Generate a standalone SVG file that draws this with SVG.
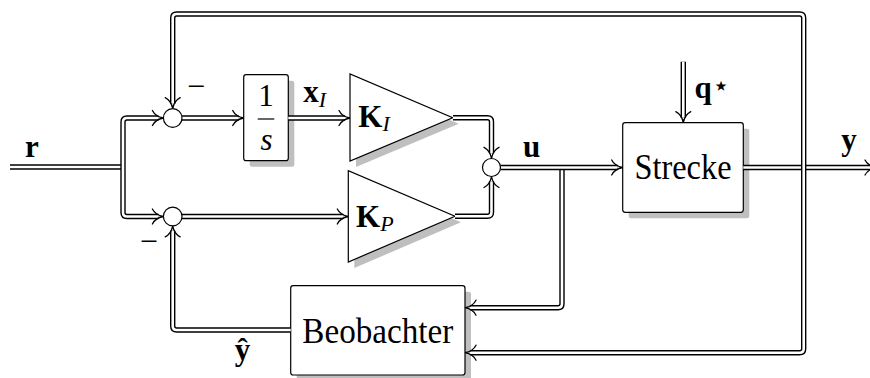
<svg xmlns="http://www.w3.org/2000/svg" width="870" height="378" viewBox="0 0 870 378">
<defs>
<style>
.bk{stroke:#000;stroke-width:5.4;fill:none;stroke-linejoin:round}
.wh{stroke:#fff;stroke-width:2.6;fill:none;stroke-linejoin:round}
.box{fill:#fff;stroke:#000;stroke-width:1.2}
.sh{fill:#bfbfbf;stroke:none}
.t{font-family:"Liberation Serif","Times New Roman",serif;fill:#000}
.bf{font-weight:bold;font-size:31px}
.it{font-style:italic;font-size:22px}
.big{font-size:35px}
</style>
<marker id="ah" markerUnits="userSpaceOnUse" viewBox="-10 -10 20 20" markerWidth="20" markerHeight="20" refX="0" refY="0" orient="auto-start-reverse" overflow="visible">
<path d="M -6,-7.5 Q -3,-1.5 5,0 Q -3,1.5 -6,7.5" fill="none" stroke="#000" stroke-width="1.3" stroke-linecap="round"/>
</marker>
</defs>
<rect width="870" height="378" fill="#fff"/>

<g id="integrator">
<rect class="sh" x="249.7" y="80.7" width="44.6" height="86" rx="2.5"/>
<rect class="box" x="243.7" y="74.7" width="44.6" height="86" rx="2.5"/>
<text class="t" x="266" y="106" font-size="31" text-anchor="middle">1</text>
<line x1="257.7" y1="119" x2="274.3" y2="119" stroke="#000" stroke-width="1.2"/>
<text class="t" x="266.5" y="150" font-size="31" font-style="italic" text-anchor="middle">s</text>
</g>
<g id="KI">
<polygon class="sh" points="356,80 356,167 458.7,123.7"/>
<polygon class="box" points="350,74 350,161 452.7,117.7"/>
<text class="t bf" x="358.3" y="127">K<tspan class="it" font-weight="normal" dy="4">I</tspan></text>
</g>
<g id="KP">
<polygon class="sh" points="354.3,176.7 354.3,268 461,222.3"/>
<polygon class="box" points="348.3,170.7 348.3,262 455,216.3"/>
<text class="t bf" x="356" y="227">K<tspan class="it" font-weight="normal" dy="4">P</tspan></text>
</g>
<g id="plant">
<rect class="sh" x="628.7" y="128.7" width="120.6" height="89.6" rx="2.5"/>
<rect class="box" x="622.7" y="122.7" width="120.6" height="89.6" rx="2.5"/>
<text class="t big" x="683" y="179" text-anchor="middle" textLength="97" lengthAdjust="spacingAndGlyphs">Strecke</text>
</g>
<g id="observer">
<rect class="sh" x="296.7" y="291.7" width="174.3" height="89.3" rx="2.5"/>
<rect class="box" x="290.7" y="285.7" width="174.3" height="89.3" rx="2.5"/>
<text class="t big" x="377.8" y="342.7" text-anchor="middle" textLength="151" lengthAdjust="spacingAndGlyphs">Beobachter</text>
</g>

<g id="connectors">
<path class="bk" d="M 10 167 H 123"/>
<path class="wh" d="M 10 167 H 123"/>
<path class="bk" d="M 158.4 118 H 127 Q 123 118 123 122 V 212.5 Q 123 216.5 127 216.5 H 158.4"/>
<path class="wh" d="M 158.4 118 H 127 Q 123 118 123 122 V 212.5 Q 123 216.5 127 216.5 H 158.4" marker-start="url(#ah)" marker-end="url(#ah)"/>
<path class="bk" d="M 182 118 H 238.7"/>
<path class="wh" d="M 182 118 H 238.7" marker-end="url(#ah)"/>
<path class="bk" d="M 288.3 118 H 345"/>
<path class="wh" d="M 288.3 118 H 345" marker-end="url(#ah)"/>
<path class="bk" d="M 182 216.5 H 343.3"/>
<path class="wh" d="M 182 216.5 H 343.3" marker-end="url(#ah)"/>
<path class="bk" d="M 453 117.7 H 487.5 Q 491.5 117.7 491.5 121.7 V 153.3"/>
<path class="wh" d="M 453 117.7 H 487.5 Q 491.5 117.7 491.5 121.7 V 153.3" marker-end="url(#ah)"/>
<path class="bk" d="M 455 216.3 H 487.5 Q 491.5 216.3 491.5 212.3 V 181.5"/>
<path class="wh" d="M 455 216.3 H 487.5 Q 491.5 216.3 491.5 212.3 V 181.5" marker-end="url(#ah)"/>
<path class="bk" d="M 562 167.5 V 303.7 Q 562 307.7 558 307.7 H 470"/>
<path class="wh" d="M 562 167.5 V 303.7 Q 562 307.7 558 307.7 H 470" marker-end="url(#ah)"/>
<path class="bk" d="M 500.5 167.5 H 617.7"/>
<path class="wh" d="M 500.5 167.5 H 617.7" marker-end="url(#ah)"/>
<path class="bk" d="M 683.3 61.7 V 117.7"/>
<path class="wh" d="M 683.3 61.7 V 117.7" marker-end="url(#ah)"/>
<path class="bk" d="M 743.3 167.5 H 871"/>
<path class="wh" d="M 743.3 167.5 H 871" marker-end="url(#ah)"/>
<path class="bk" d="M 470 352.7 H 799.7 Q 803.7 352.7 803.7 348.7 V 18 Q 803.7 14 799.7 14 H 176.7 Q 172.7 14 172.7 18 V 103.7"/>
<path class="wh" d="M 470 352.7 H 799.7 Q 803.7 352.7 803.7 348.7 V 18 Q 803.7 14 799.7 14 H 176.7 Q 172.7 14 172.7 18 V 103.7" marker-start="url(#ah)" marker-end="url(#ah)"/>
<path class="bk" d="M 290.7 330 H 176.7 Q 172.7 330 172.7 326 V 230.8"/>
<path class="wh" d="M 290.7 330 H 176.7 Q 172.7 330 172.7 326 V 230.8" marker-end="url(#ah)"/>
</g>

<g id="sum1"><circle class="box" cx="172.7" cy="118" r="9.3"/></g>
<g id="sum2"><circle class="box" cx="172.7" cy="216.5" r="9.3"/></g>
<g id="sum3"><circle class="box" cx="491.5" cy="167.5" r="9"/></g>

<g id="labels">
<text class="t bf" x="32" y="157" text-anchor="middle">r</text>
<text class="t bf" x="303.3" y="102">x<tspan class="it" font-weight="normal" dy="4.5">I</tspan></text>
<text class="t bf" x="531.5" y="157" text-anchor="middle">u</text>
<text class="t bf" x="694.5" y="98">q</text>
<text x="721" y="95" font-family="DejaVu Sans,sans-serif" font-size="28" text-anchor="middle">⋆</text>
<text class="t bf" x="849" y="150" text-anchor="middle">y</text>
<text class="t bf" x="242.5" y="360" text-anchor="middle">ŷ</text>
<text class="t" x="196" y="96.5" font-size="32" text-anchor="middle">−</text>
<text class="t" x="148.8" y="251.5" font-size="32" text-anchor="middle">−</text>
</g>
</svg>
